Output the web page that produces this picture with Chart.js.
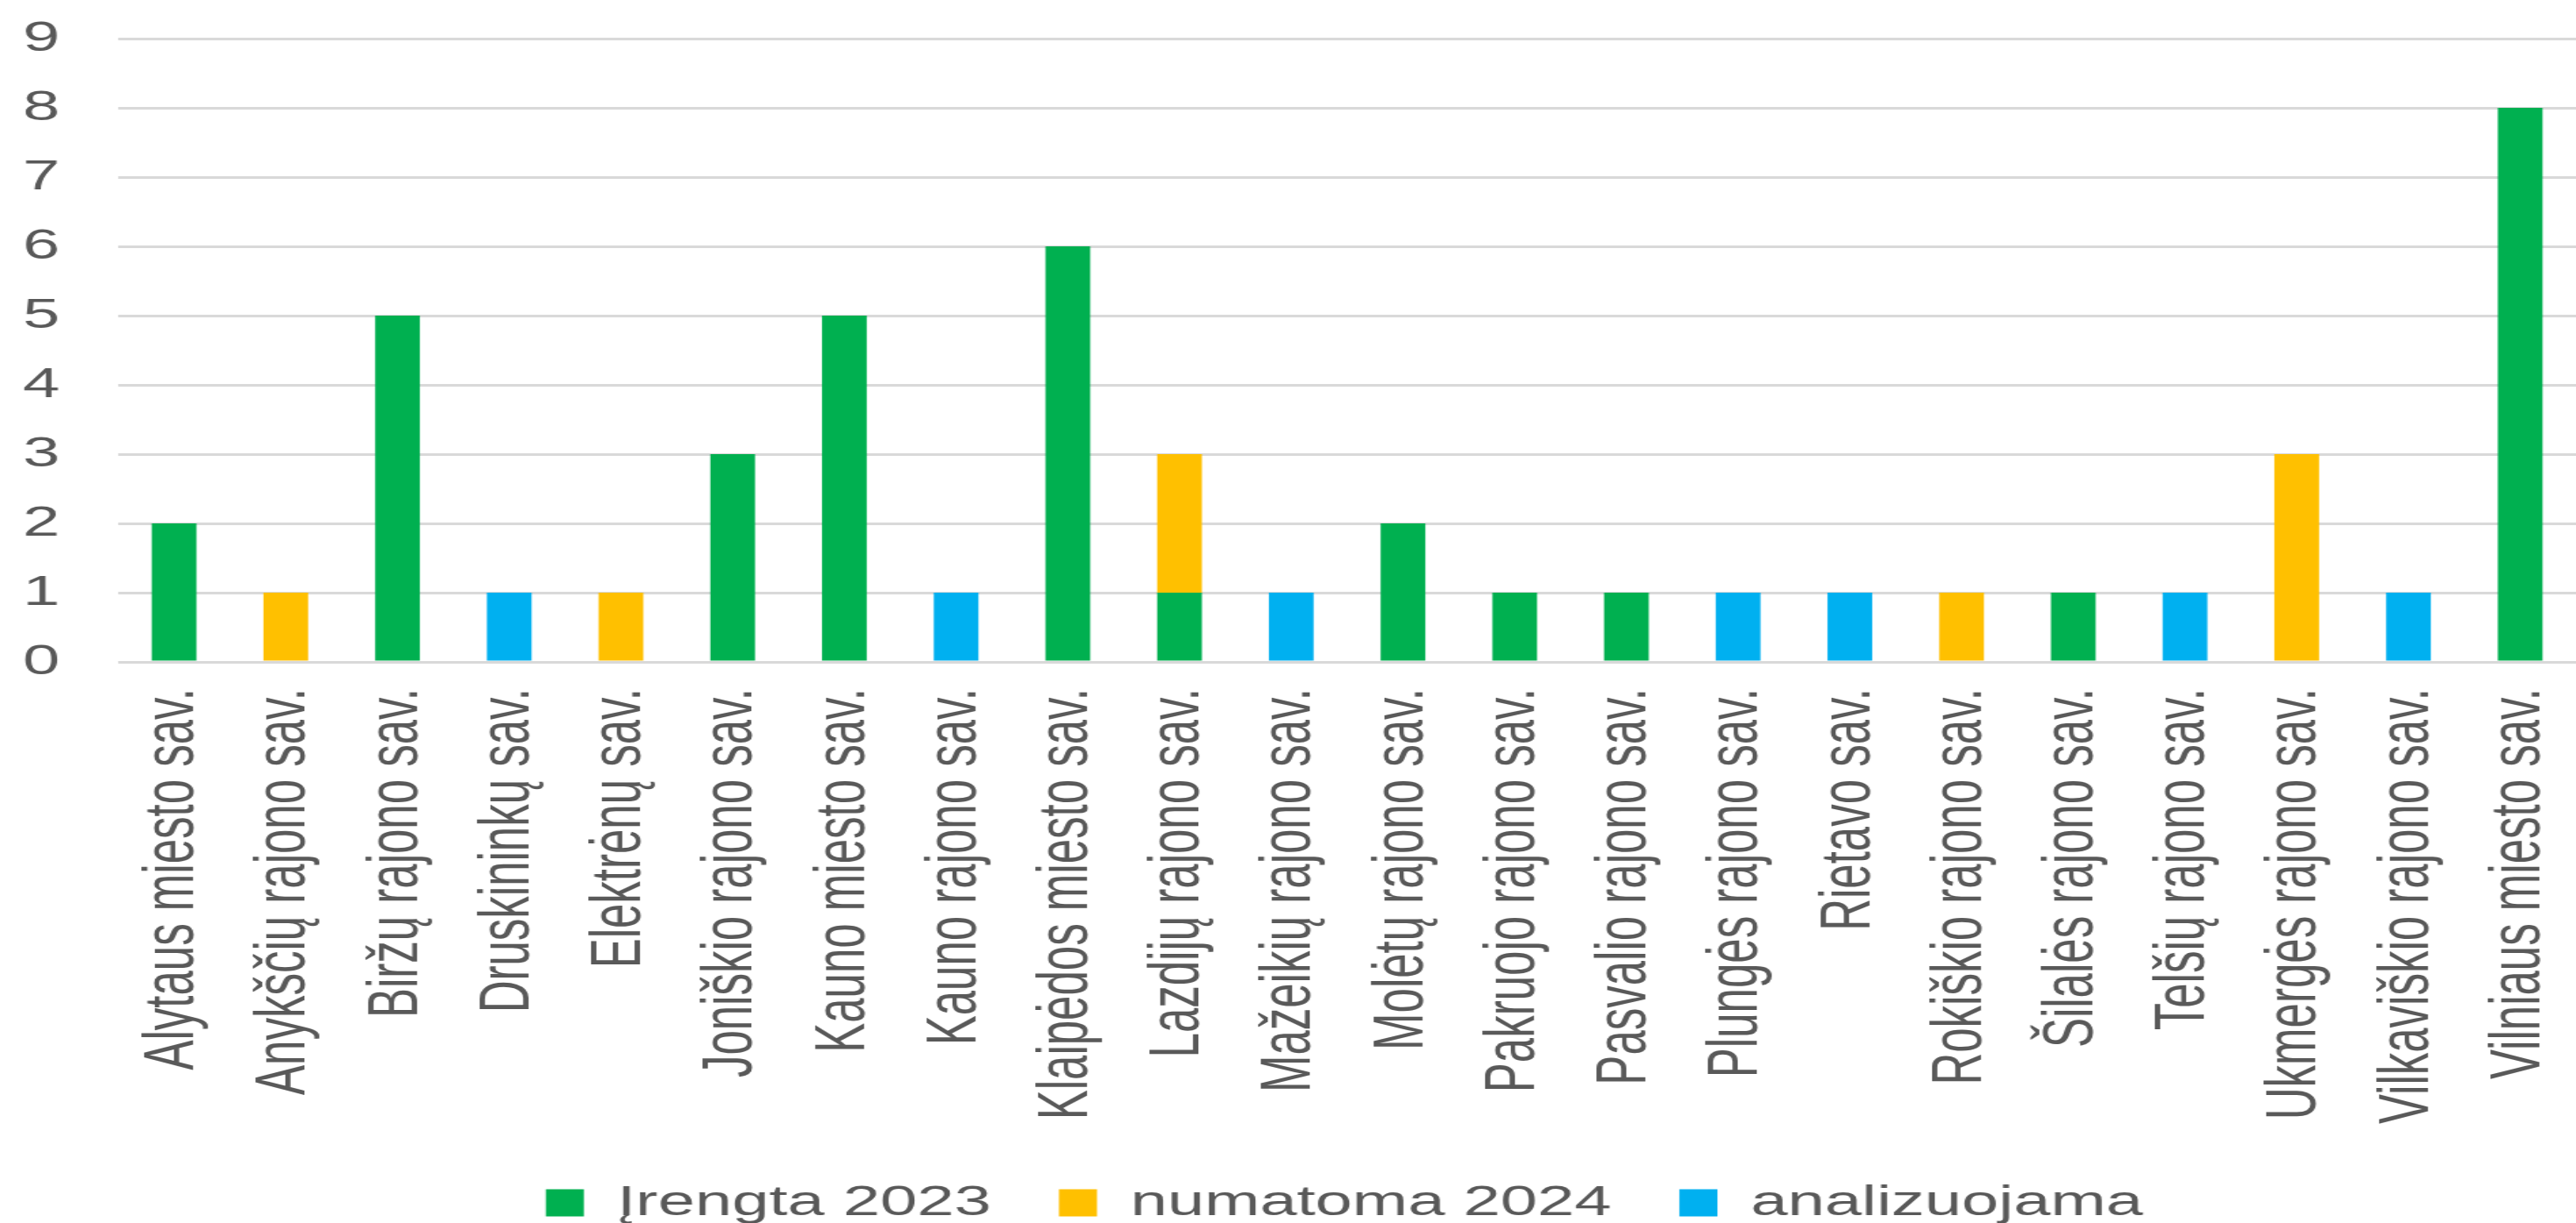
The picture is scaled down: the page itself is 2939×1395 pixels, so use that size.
<!DOCTYPE html>
<html lang="lt">
<head>
<meta charset="utf-8">
<title>Savivaldybės</title>
<script src="https://cdn.jsdelivr.net/npm/chart.js@4.4.1/dist/chart.umd.min.js"></script>
<style>
    html, body { margin: 0; padding: 0; background: #fff; overflow: hidden; }
</style>
</head>
<body>
<!-- the source picture is stretched sideways, so the canvas is stretched the same way -->
<canvas id="chart" width="1896" height="1395" style="display:block;width:2939px;height:1395px"></canvas>
<script>
const categories = [
    "Alytaus miesto sav.", "Anykščių rajono sav.", "Biržų rajono sav.", "Druskininkų sav.",
    "Elektrėnų sav.", "Joniškio rajono sav.", "Kauno miesto sav.", "Kauno rajono sav.",
    "Klaipėdos miesto sav.", "Lazdijų rajono sav.", "Mažeikių rajono sav.", "Molėtų rajono sav.",
    "Pakruojo rajono sav.", "Pasvalio rajono sav.", "Plungės rajono sav.", "Rietavo sav.",
    "Rokiškio rajono sav.", "Šilalės rajono sav.", "Telšių rajono sav.", "Ukmergės rajono sav.",
    "Vilkaviškio rajono sav.", "Vilniaus miesto sav."
];
const irengta2023   = [2, 0, 5, 0, 0, 3, 5, 0, 6, 1, 0, 2, 1, 1, 0, 0, 0, 1, 0, 0, 0, 8];
const numatoma2024  = [0, 1, 0, 0, 1, 0, 0, 0, 0, 2, 0, 0, 0, 0, 0, 0, 1, 0, 0, 3, 0, 0];
const analizuojama  = [0, 0, 0, 1, 0, 0, 0, 1, 0, 0, 1, 0, 0, 0, 1, 1, 0, 0, 1, 0, 1, 0];
const yTicks = [0, 1, 2, 3, 4, 5, 6, 7, 8, 9];

const textColor = "#595959";
const fontFamily = "'Liberation Sans', Arial, sans-serif";

// legend sits a bit right of centre in the original
const legendShift = {
    id: "legendShift",
    afterLayout(chart) {
        chart.legend.left += 33;
        chart.legend.right += 33;
    }
};

const ctx = document.getElementById("chart");
new Chart(ctx, {
    type: "bar",
    data: {
        labels: categories,
        datasets: [
            { label: "Įrengta 2023", data: irengta2023, backgroundColor: "#00b050" },
            { label: "numatoma 2024", data: numatoma2024, backgroundColor: "#ffc000" },
            { label: "analizuojama", data: analizuojama, backgroundColor: "#00b0f0" }
        ]
    },
    plugins: [legendShift],
    options: {
        responsive: false,
        devicePixelRatio: 1,
        animation: false,
        barPercentage: 0.8,
        categoryPercentage: 0.5,
        layout: { padding: { top: 44, left: 17, right: 0, bottom: 0 } },
        plugins: {
            tooltip: { enabled: false },
            legend: {
                position: "bottom",
                maxHeight: 97.5,
                labels: {
                    boxWidth: 28,
                    boxHeight: 31,
                    padding: 50,
                    color: textColor,
                    font: { family: fontFamily, size: 49 }
                }
            }
        },
        scales: {
            x: {
                stacked: true,
                grid: { display: false, drawTicks: false },
                border: { display: false },
                ticks: {
                    autoSkip: false,
                    minRotation: 90,
                    maxRotation: 90,
                    padding: 30,
                    color: textColor,
                    font: { family: fontFamily, size: 51 }
                },
                afterFit: (scale) => {
                    scale.height = 542.5;
                    scale.paddingLeft = 0;
                    scale.paddingRight = 0;
                }
            },
            y: {
                stacked: true,
                min: yTicks[0],
                max: yTicks[yTicks.length - 1],
                afterBuildTicks: (scale) => {
                    scale.ticks = yTicks.map(v => ({ value: v }));
                },
                afterFit: (scale) => {
                    scale.width = 70;
                    scale.paddingTop = 0;
                    scale.paddingBottom = 0;
                },
                grid: { color: "#d9d9d9", lineWidth: 3, drawTicks: false },
                border: { display: false },
                ticks: {
                    padding: 43,
                    color: textColor,
                    font: { family: fontFamily, size: 49 }
                }
            }
        }
    }
});
</script>
</body>
</html>
